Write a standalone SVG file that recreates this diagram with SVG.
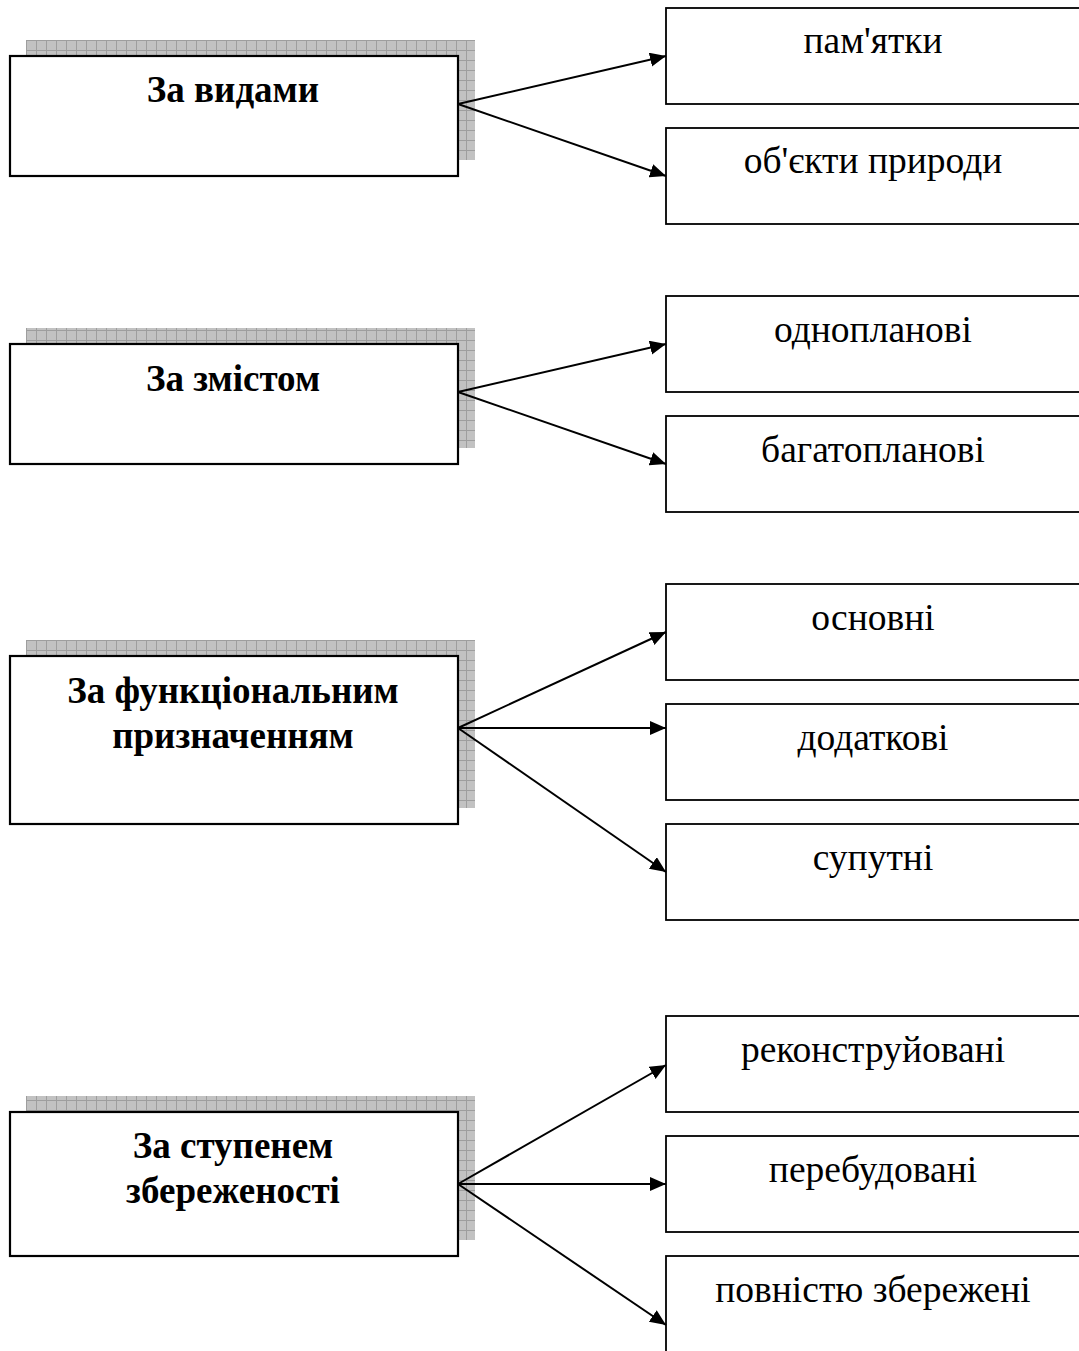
<svg xmlns="http://www.w3.org/2000/svg" width="1079" height="1351" viewBox="0 0 1079 1351">
  <defs>
    <!-- hatched grey fill used for the raised-card shadow -->
    <pattern id="grid" patternUnits="userSpaceOnUse" width="10" height="10" x="26" y="0">
      <rect width="10" height="10" fill="#c2c2c2"/>
      <path d="M0 0.5H10M0.5 0V10" stroke="#9e9e9e" stroke-width="1"/>
    </pattern>
    <marker id="head" markerUnits="userSpaceOnUse" markerWidth="17" markerHeight="15" refX="16" refY="7" orient="auto">
      <polygon points="0,0 16,7 0,14" fill="#000"/>
    </marker>
    <style>
      .shadow { fill: url(#grid); }
      .main { fill: #fff; stroke: #000; stroke-width: 2.2; }
      .item { fill: #fff; stroke: #000; stroke-width: 1.8; }
      .title { font-family: "Liberation Serif", "Times New Roman", serif; font-weight: bold; font-size: 37px; text-anchor: middle; fill: #000; }
      .label { font-family: "Liberation Serif", "Times New Roman", serif; font-size: 37.5px; text-anchor: middle; fill: #000; }
      .conn line { stroke: #000; stroke-width: 2; marker-end: url(#head); }
    </style>
  </defs>
  <rect width="1079" height="1351" fill="#fff"/>

  <!-- category cards -->
  <g id="cat-kinds">
    <rect class="shadow" x="26" y="40" width="449" height="120"/>
    <rect class="main" x="10" y="56" width="448" height="120"/>
    <text class="title" x="233" y="102">За видами</text>
  </g>
  <g id="cat-content">
    <rect class="shadow" x="26" y="328" width="449" height="120"/>
    <rect class="main" x="10" y="344" width="448" height="120"/>
    <text class="title" x="233" y="391">За змістом</text>
  </g>
  <g id="cat-function">
    <rect class="shadow" x="26" y="640" width="449" height="168"/>
    <rect class="main" x="10" y="656" width="448" height="168"/>
    <text class="title" x="233" y="703">За функціональним</text>
    <text class="title" x="233" y="748">призначенням</text>
  </g>
  <g id="cat-preservation">
    <rect class="shadow" x="26" y="1096" width="449" height="144"/>
    <rect class="main" x="10" y="1112" width="448" height="144"/>
    <text class="title" x="233" y="1158">За ступенем</text>
    <text class="title" x="233" y="1203">збереженості</text>
  </g>

  <!-- item boxes (run past the right edge) -->
  <g id="item-monuments">
    <rect class="item" x="666" y="8" width="430" height="96"/>
    <text class="label" x="873" y="53">пам'ятки</text>
  </g>
  <g id="item-nature">
    <rect class="item" x="666" y="128" width="430" height="96"/>
    <text class="label" x="873" y="173">об'єкти природи</text>
  </g>
  <g id="item-single">
    <rect class="item" x="666" y="296" width="430" height="96"/>
    <text class="label" x="873" y="342">однопланові</text>
  </g>
  <g id="item-multi">
    <rect class="item" x="666" y="416" width="430" height="96"/>
    <text class="label" x="873" y="462">багатопланові</text>
  </g>
  <g id="item-main">
    <rect class="item" x="666" y="584" width="430" height="96"/>
    <text class="label" x="873" y="630">основні</text>
  </g>
  <g id="item-extra">
    <rect class="item" x="666" y="704" width="430" height="96"/>
    <text class="label" x="873" y="750">додаткові</text>
  </g>
  <g id="item-accompanying">
    <rect class="item" x="666" y="824" width="430" height="96"/>
    <text class="label" x="873" y="870">супутні</text>
  </g>
  <g id="item-reconstructed">
    <rect class="item" x="666" y="1016" width="430" height="96"/>
    <text class="label" x="873" y="1062">реконструйовані</text>
  </g>
  <g id="item-rebuilt">
    <rect class="item" x="666" y="1136" width="430" height="96"/>
    <text class="label" x="873" y="1182">перебудовані</text>
  </g>
  <g id="item-preserved">
    <rect class="item" x="666" y="1256" width="430" height="120"/>
    <text class="label" x="873" y="1302">повністю збережені</text>
  </g>

  <!-- connectors -->
  <g id="connectors" class="conn">
    <line x1="458" y1="104" x2="666" y2="56"/>
    <line x1="458" y1="104" x2="666" y2="176"/>
    <line x1="458" y1="392" x2="666" y2="344"/>
    <line x1="458" y1="392" x2="666" y2="464"/>
    <line x1="458" y1="728" x2="666" y2="632"/>
    <line x1="458" y1="728" x2="666" y2="728"/>
    <line x1="458" y1="728" x2="666" y2="872"/>
    <line x1="458" y1="1184" x2="666" y2="1065"/>
    <line x1="458" y1="1184" x2="666" y2="1184"/>
    <line x1="458" y1="1184" x2="666" y2="1325"/>
  </g>
</svg>
